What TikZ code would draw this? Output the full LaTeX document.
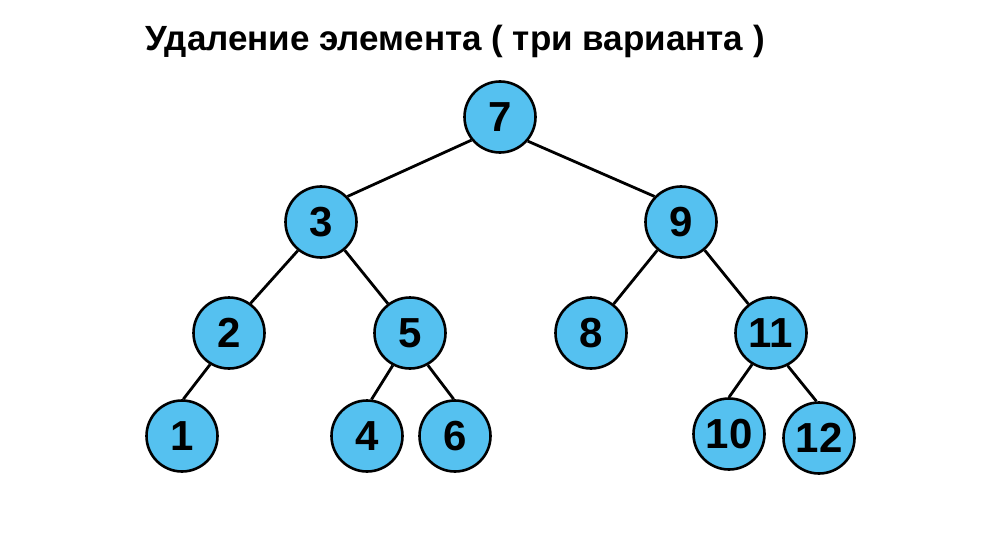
\documentclass[tikz,border=0pt]{standalone}
\usepackage{fontspec}
\setmainfont{Liberation Sans}
\begin{document}
\begin{tikzpicture}[x=1pt,y=-1pt,
  vert/.style={circle,draw=black,line width=2.6pt,fill=nodeblue,minimum size=71pt,inner sep=0pt,font=\fontsize{42}{42}\selectfont\bfseries},
  edge/.style={line width=2.8pt,black}]
\definecolor{nodeblue}{HTML}{55C1F0}
\useasboundingbox (0,0) rectangle (1000,556);
\fill[white] (0,0) rectangle (1000,556);
\node[anchor=base west,inner sep=0pt,font=\fontsize{35}{35}\selectfont\bfseries] (title) at (145,51) {Удаление элемента ( три варианта )};
\node[vert] (n7) at (500,117) {7};
\node[vert] (n3) at (321,222) {3};
\node[vert] (n9) at (681,222) {9};
\node[vert] (n2) at (229,333) {2};
\node[vert] (n5) at (410,333) {5};
\node[vert] (n8) at (591,333) {8};
\node[vert] (n11) at (771,333) {11};
\node[vert] (n1) at (182,436) {1};
\node[vert] (n4) at (367,436) {4};
\node[vert] (n6) at (455,436) {6};
\node[vert] (n10) at (729,434) {10};
\node[vert] (n12) at (819,438) {12};
\draw[edge] (n7.219) -- (n3.44);
\draw[edge] (n7.319) -- (n9.136);
\draw[edge] (n3.231) -- (n2.54);
\draw[edge] (n3.310) -- (n5.127);
\draw[edge] (n9.230) -- (n8.52);
\draw[edge] (n9.310) -- (n11.128);
\draw[edge] (n2.239) -- (n1.88);
\draw[edge] (n5.242) -- (n4.83);
\draw[edge] (n5.299) -- (n6.92);
\draw[edge] (n11.239) -- (n10.90);
\draw[edge] (n11.297) -- (n12.94);
\end{tikzpicture}
\end{document}
